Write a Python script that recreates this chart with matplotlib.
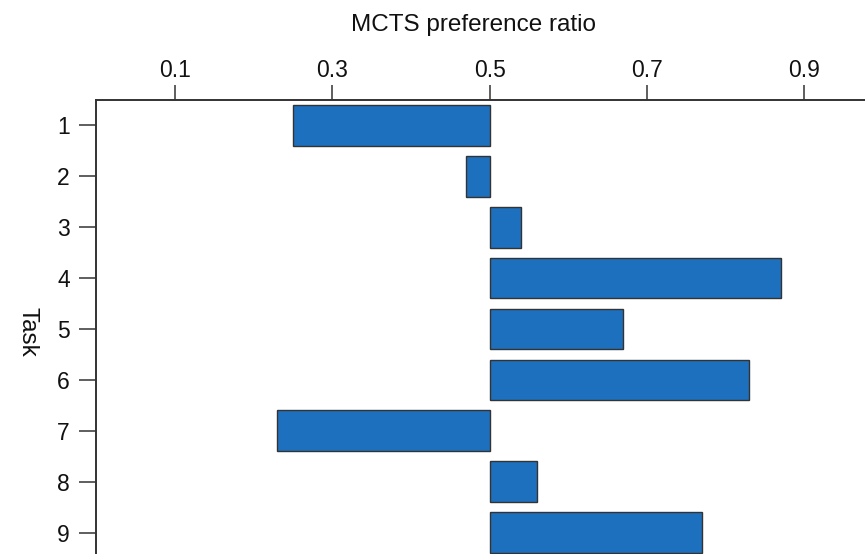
import matplotlib
matplotlib.use("Agg")
import matplotlib.pyplot as plt

# MCTS preference ratio per task (bars drawn from the 0.5 baseline)
tasks = [1, 2, 3, 4, 5, 6, 7, 8, 9]
ratios = [0.25, 0.47, 0.54, 0.87, 0.67, 0.83, 0.23, 0.56, 0.77]
xticks = [0.1, 0.3, 0.5, 0.7, 0.9]

BAR = "#1d70bd"
INK = "#333333"

plt.rcParams["font.family"] = ["Liberation Sans", "DejaVu Sans"]

fig = plt.figure(figsize=(8.65, 5.54), dpi=100)
ax = fig.add_axes([0.111, 0.0, 0.91, 0.8195])

base = 0.5
ax.barh(tasks, [r - base for r in ratios], left=base, height=0.8,
        color=BAR, edgecolor=INK, linewidth=1.0)

ax.set_xlim(0, 1)
ax.set_ylim(9.42, 0.5)

ax.xaxis.tick_top()
ax.xaxis.set_label_position("top")
ax.set_xticks(xticks)
ax.set_xticklabels([f"{t:.1f}" for t in xticks])
ax.set_yticks(tasks)

ax.tick_params(axis="x", direction="out", length=11, width=1.1, pad=2,
               labelsize=16.5, color=INK, labelcolor="#111111")
ax.tick_params(axis="y", direction="out", length=12, width=1.1, pad=7,
               labelsize=16.5, color=INK, labelcolor="#111111")

for side in ["bottom", "right"]:
    ax.spines[side].set_visible(False)
for side in ["top", "left"]:
    ax.spines[side].set_linewidth(1.4)
    ax.spines[side].set_color(INK)

ax.set_xlabel("MCTS preference ratio", fontsize=17.5, color="#111111")
ax.xaxis.set_label_coords(0.479, 1.153)
ax.set_ylabel("Task", fontsize=17.5, rotation=-90, color="#111111")
ax.yaxis.set_label_coords(-0.101, 0.49)

fig.savefig("out.png", dpi=100, facecolor="white")
